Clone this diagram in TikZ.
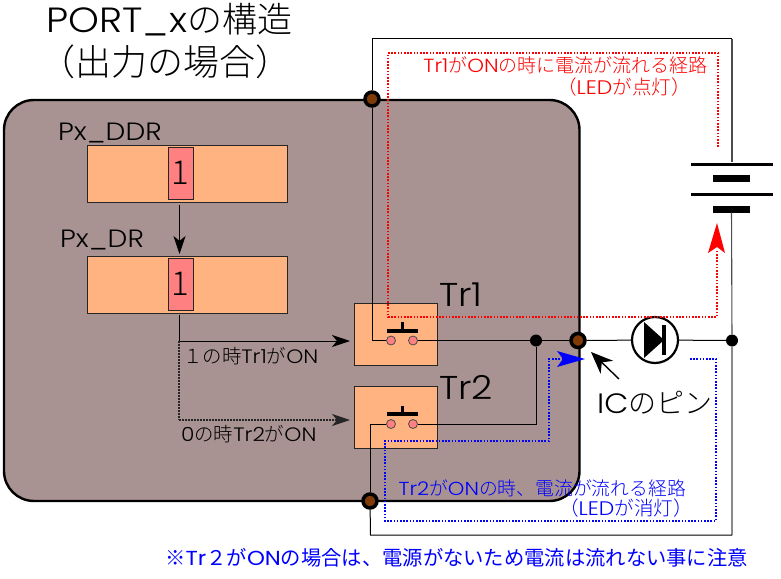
\documentclass[tikz,border=0pt]{standalone}
\usepackage{fontspec}
\setmainfont[UprightFont={* Light},BoldFont={*}]{Noto Sans CJK JP}
\newfontfamily\latf[UprightFont={* Light},BoldFont={*},FakeStretch=1.12]{Poppins}
\newcommand{\lt}[1]{{\latf #1}}
\usetikzlibrary{arrows.meta}
\definecolor{chipbg}{HTML}{A89292}
\definecolor{regbox}{HTML}{FFB380}
\definecolor{bitbox}{HTML}{FF8080}
\definecolor{padin}{HTML}{7F3A08}
\tikzset{
  x=1pt,y=-1pt,
  wire/.style={draw=black,line width=1pt},
  grayw/.style={draw=black!70,line width=1.1pt},
  regst/.style={draw=black!85,line width=1pt,fill=regbox,inner sep=0,minimum width=200pt,minimum height=57pt},
  bitst/.style={draw=black!85,line width=1pt,fill=bitbox,inner sep=0,minimum width=25pt,minimum height=52pt,font=\fontsize{33}{33}\selectfont},
  trst/.style={draw=black!85,line width=1pt,fill=regbox,inner sep=0,minimum width=83pt,minimum height=62pt},
  contact/.style={circle,draw=black!70,line width=.8pt,fill=bitbox,inner sep=0,minimum size=9pt},
  pad/.style={circle,draw=black,line width=3.5pt,fill=padin,inner sep=0,minimum size=14pt},
  dotn/.style={circle,fill=black,inner sep=0,minimum size=12pt},
  plate/.style={fill=black,inner sep=0,minimum width=#1,minimum height=3pt},
  thick plate/.style={fill=black,inner sep=0,minimum width=#1,minimum height=7pt},
  bar/.style={fill=black,inner sep=0,minimum width=31pt,minimum height=3.5pt},
  redpath/.style={draw=red,line width=1.4pt,dash pattern=on 1.6pt off 1.6pt},
  bluepath/.style={draw=blue,line width=1.4pt,dash pattern=on 1.6pt off 1.6pt},
  lbl/.style={inner sep=0,font=\fontsize{#1}{#1}\selectfont},
  redt/.style={text=red},
  bluet/.style={text=blue},
  tip/.style={-{Stealth[length=18pt,width=12pt,inset=5pt]}},
}
\begin{document}
\begin{tikzpicture}
\useasboundingbox (0,0) rectangle (781,578);
\fill[white] (0,0) rectangle (781,578);
% chip body
\draw[draw=black,line width=2.4pt,fill=chipbg,rounded corners=30pt] (4,100) rectangle (579.5,501);
% nodes
\node[pad] (jtop) at (372,99) {};
\node[pad] (jbot) at (370,501) {};
\node[pad] (jpin) at (578,340.5) {};
\node[regst] (ddr) at (187,173.5) {};
\node[bitst] (ddrbit) at (180.5,173) {1};
\node[regst] (dr) at (187,284.5) {};
\node[bitst] (drbit) at (180.5,284) {1};
\node[trst] (tr1) at (395.5,334) {};
\node[trst] (tr2) at (395.5,417.5) {};
\node[contact] (c1l) at (391,340.5) {};
\node[contact] (c1r) at (413,340.5) {};
\node[contact] (c2l) at (391,424) {};
\node[contact] (c2r) at (413,424) {};
\node[bar] (b1) at (402.5,331) {};
\node[bar] (b2) at (402.5,414) {};
\coordinate (s1) at (402.5,322);
\coordinate (s2) at (402.5,406);
\node[dotn] (dj) at (536,340.5) {};
\node[dotn] (dr2) at (732,340.5) {};
\node[circle,draw=black,line width=2.2pt,inner sep=0,minimum size=46pt] (led) at (655,340) {};
\node[plate=82pt] (p1) at (732,164) {};
\node[thick plate=37pt] (p2) at (731,178) {};
\node[plate=82pt] (p3) at (732,194) {};
\node[thick plate=37pt] (p4) at (731.5,209) {};
\coordinate (k1) at (372,39);
\coordinate (k2) at (732,39);
\coordinate (k3) at (732,535);
\coordinate (k4) at (370.5,535);
\coordinate (a1) at (179.5,205);
\coordinate (a2) at (179.5,254);
\coordinate (q1) at (179,315);
\coordinate (q2) at (179,341);
\coordinate (q3) at (179,420);
\coordinate (t1) at (350,341);
\coordinate (t2) at (350,420);
\coordinate (pt) at (619,379);
\coordinate (ph) at (591,352);
% wires
\draw[wire] (jtop) -- (k1) -- (k2);
\draw[grayw] (k2) -- (p1);
\draw[grayw] (p4) -- (dr2) -- (k3);
\draw[wire] (k3) -- (k4) -- (jbot);
\draw[wire] (jtop) |- (c1l);
\draw[wire] (c1r) -- (jpin);
\draw[wire] (jpin) -- (led);
\draw[wire] (led) -- (dr2);
\draw[wire] (c2r) -| (dj);
\draw[wire] (c2l) -| (jbot);
\draw[line width=3pt] (b1) -- (s1);
\draw[line width=3pt] (b2) -- (s2);
% diode
\fill[black] (644,322) -- (664,340) -- (644,358) -- cycle;
\fill[black] (662,325) rectangle (666,355);
% register arrows
\draw[wire,tip] (a1) -- (a2);
\draw[wire] (q1) -- (q2);
\draw[wire,tip] (q2) -- (t1);
\draw[line width=1.1pt,black!85,dash pattern=on 1.5pt off 1.5pt] (q2) -- (q3);
\draw[line width=1.1pt,black!85,dash pattern=on 1.5pt off 1.5pt,tip] (q3) -- (t2);
% pointer
\draw[wire,line width=1.4pt,-{Stealth[length=22pt,width=18pt,inset=7pt]}] (pt) -- (ph);
% current paths
\draw[redpath] (718,147) -- (718,53) -- (388,53) -- (388,317) -- (717,317) -- (717,250);
\fill[red] (717,223) -- (725,253) -- (717,247) -- (708,253) -- cycle;
\draw[bluepath] (690,359) -- (716,359) -- (716,521) -- (385,521) -- (385,441) -- (549,441) -- (549,359) -- (562,359);
\fill[blue] (585,359) -- (557,367) -- (563,359) -- (557,351) -- cycle;
% texts
\node[lbl=35,anchor=base west] (title1) at (46,33) {\lt{PORT\_x}の構造};
\node[lbl=36,anchor=base] (title2) at (165,75) {（出力の場合）};
\node[lbl=25,anchor=base west] (pddr) at (58,140) {\lt{Px\_DDR}};
\node[lbl=25,anchor=base west] (pdr) at (60,247) {\lt{Px\_DR}};
\node[lbl=19.4,anchor=base west] (on1) at (183,363) {１の時\lt{Tr1}が\lt{ON}};
\node[lbl=19.4,anchor=base west] (on0) at (181,441) {\lt{0}の時\lt{Tr2}が\lt{ON}};
\node[lbl=33,anchor=base west] (ltr1) at (439,306) {\lt{Tr1}};
\node[lbl=33,anchor=base west] (ltr2) at (439,399) {\lt{Tr2}};
\node[lbl=28,anchor=base west] (pin) at (597,413) {\lt{IC}のピン};
\node[lbl=19,anchor=base east,redt] (r1) at (708,72) {\lt{Tr1}が\lt{ON}の時に電流が流れる経路};
\node[lbl=19.6,anchor=base east,redt] (r2) at (691,94) {（\lt{LED}が点灯）};
\node[lbl=18.8,anchor=base east,bluet] (bl1) at (686,495) {\lt{Tr2}が\lt{ON}の時、電流が流れる経路};
\node[lbl=19.6,anchor=base east,bluet] (bl2) at (693,515) {（\lt{LED}が消灯）};
\node[lbl=20.3,anchor=base east,text=blue,font=\fontsize{20.3}{20.3}\selectfont\bfseries] (note) at (748,565) {※\lt{Tr}２が\lt{ON}の場合は、電源がないため電流は流れない事に注意};
\end{tikzpicture}
\end{document}
